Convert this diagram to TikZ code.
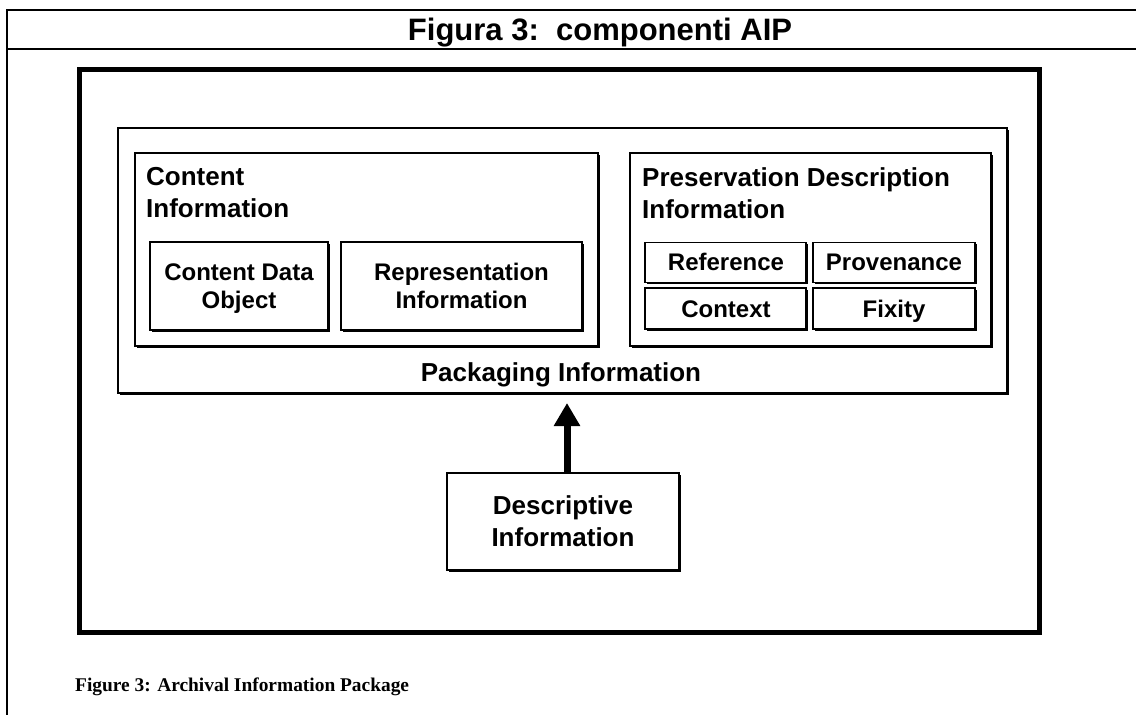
\documentclass[tikz,border=0pt]{standalone}
\usepackage{fontspec}
\setmainfont{Liberation Sans}
\newfontfamily\capfont{Liberation Serif}
\usetikzlibrary{arrows.meta,shadows}

\tikzset{
  box/.style={draw=black, line width=1.8pt, fill=white, inner sep=0pt, outer sep=0pt,
    rectangle, drop shadow={shadow xshift=1.6pt, shadow yshift=-1.6pt, opacity=1, fill=black}},
  framebox/.style={draw=black, line width=5pt, fill=white, inner sep=0pt, outer sep=0pt,
    rectangle, drop shadow={shadow xshift=2.5pt, shadow yshift=-2.5pt, opacity=1, fill=black}},
  head/.style={inner sep=0pt, align=left, font=\bfseries\fontsize{26}{32}\selectfont},
  lbl/.style={inner sep=0pt, align=center, font=\bfseries\fontsize{24}{28}\selectfont},
  rule/.style={line width=2pt, line cap=rect},
  bigarrow/.style={line width=7pt, -{Triangle[width=25pt,length=23pt]}}
}

\begin{document}
\begin{tikzpicture}[x=1pt, y=-1pt]
  % page area
  \path[use as bounding box, fill=white] (0,0) rectangle (1136,715);

  % table rules around the title cell
  \coordinate (tl) at (7,10);
  \coordinate (tr) at (1136,10);
  \coordinate (sl) at (7,49);
  \coordinate (sr) at (1136,49);
  \coordinate (bl) at (7,715);
  \draw[rule] (tr) -- (tl) -- (bl);
  \draw[rule] (sl) -- (sr);

  \node[anchor=base, inner sep=0pt, font=\bfseries\fontsize{31}{36}\selectfont]
    (title) at (600,40) {Figura 3:\ \ componenti AIP};

  % outer frame
  \node[framebox, minimum width=960pt, minimum height=563pt] (frame) at (559.5,351) {};

  % packaging information
  \node[box, minimum width=889pt, minimum height=265pt] (pack) at (562.5,260.5) {};
  \node[head, anchor=base] (packlbl) at (561,381) {Packaging Information};

  % content information
  \node[box, minimum width=463pt, minimum height=193pt] (ci) at (366.5,249.5) {};
  \node[head, anchor=north west] (cilbl) at (146,167) {Content\\Information};
  \node[box, minimum width=178pt, minimum height=88pt] (cdo) at (239,286) {};
  \node[lbl] (cdolbl) at (239,289) {\strut Content Data\\\strut Object};
  \node[box, minimum width=241pt, minimum height=88pt] (ri) at (461.5,286) {};
  \node[lbl] (rilbl) at (461.5,289) {\strut Representation\\\strut Information};

  % preservation description information
  \node[box, minimum width=361pt, minimum height=193pt] (pdi) at (810.5,249.5) {};
  \node[head, anchor=north west] (pdilbl) at (642,167) {Preservation Description\\Information};
  \node[box, minimum width=161pt, minimum height=40pt] (ref) at (725.5,262.5) {};
  \node[lbl, anchor=base] (reflbl) at (726,270) {Reference};
  \node[box, minimum width=162pt, minimum height=40pt] (prov) at (894,262.5) {};
  \node[lbl, anchor=base] (provlbl) at (894,270) {Provenance};
  \node[box, minimum width=161pt, minimum height=41pt] (ctx) at (725.5,308.5) {};
  \node[lbl, anchor=base] (ctxlbl) at (726,317) {Context};
  \node[box, minimum width=162pt, minimum height=41pt] (fix) at (894,308.5) {};
  \node[lbl, anchor=base] (fixlbl) at (894,317) {Fixity};

  % descriptive information
  \node[box, minimum width=232pt, minimum height=97pt] (desc) at (563,521.5) {};
  \node[head, align=center, anchor=center] (desclbl) at (desc.center) {Descriptive\\Information};

  \draw[bigarrow, shorten >=10pt] ([xshift=4pt]desc.north) -- ([xshift=4pt]desc.north |- pack.south);

  % caption
  \node[anchor=base west, inner sep=0pt, font=\capfont\bfseries\fontsize{19.4}{23}\selectfont]
    (caption) at (75,691) {Figure 3: Archival Information Package};
\end{tikzpicture}
\end{document}
